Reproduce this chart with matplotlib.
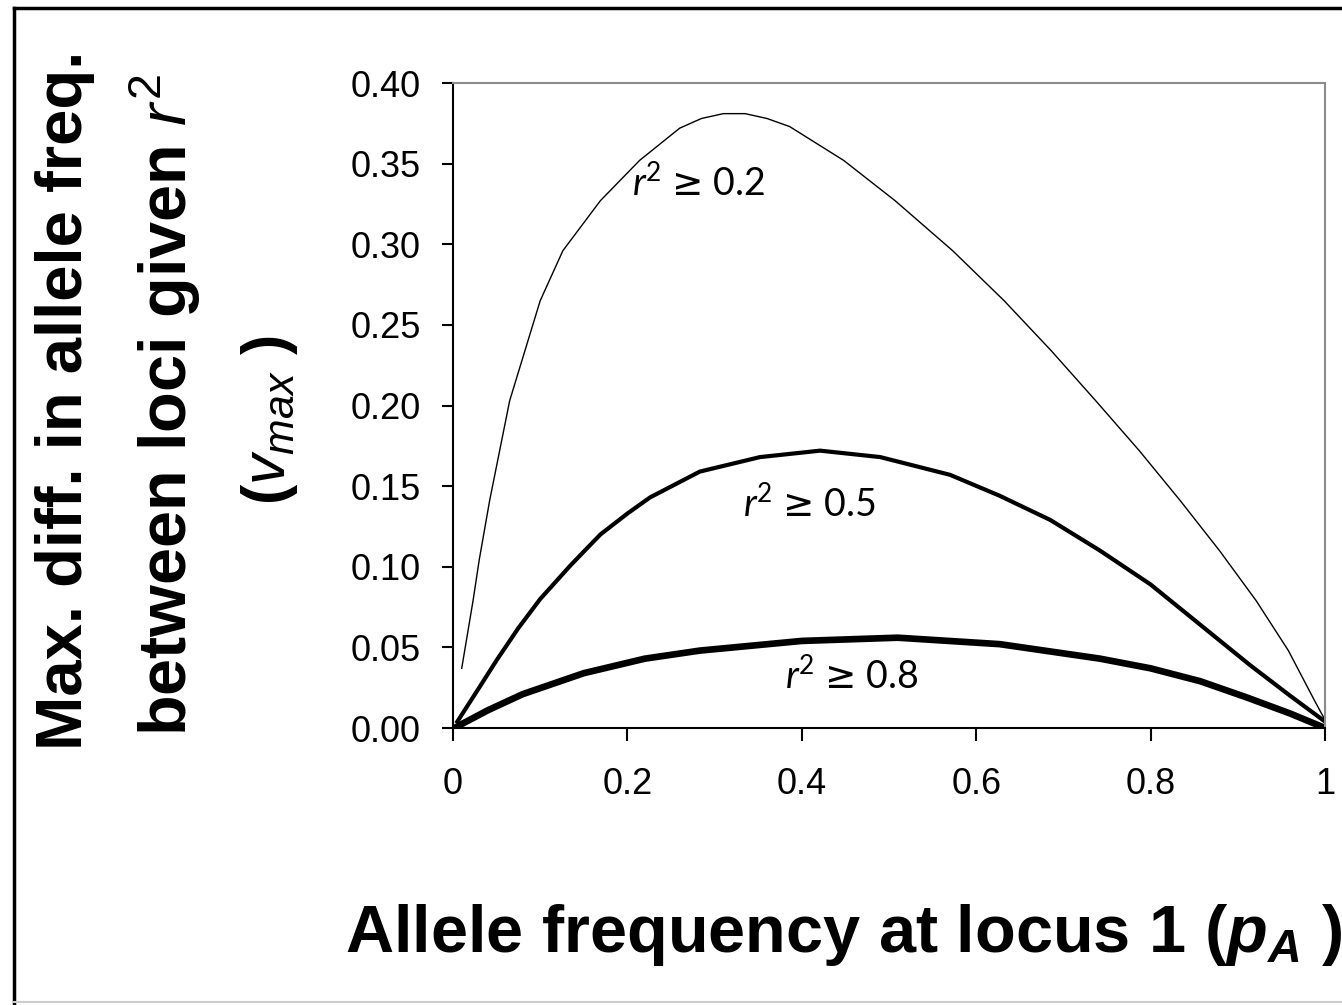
import matplotlib
matplotlib.use("Agg")
import matplotlib.pyplot as plt
from matplotlib.lines import Line2D

# values
p_02 = [0.01, 0.023, 0.03, 0.042, 0.065, 0.10, 0.126, 0.169, 0.214, 0.26, 0.285, 0.31, 0.335,
        0.36, 0.386, 0.448, 0.507, 0.573, 0.632, 0.686, 0.737, 0.787, 0.834, 0.879, 0.921,
        0.958, 0.988, 1.0]
v_02 = [0.037, 0.079, 0.104, 0.141, 0.203, 0.265, 0.296, 0.327, 0.352, 0.372, 0.378, 0.381,
        0.381, 0.378, 0.373, 0.352, 0.327, 0.296, 0.265, 0.234, 0.203, 0.172, 0.141, 0.110,
        0.079, 0.048, 0.017, 0.005]

p_05 = [0.005, 0.03, 0.05, 0.075, 0.10, 0.135, 0.169, 0.20, 0.226, 0.283, 0.352, 0.421,
        0.49, 0.57, 0.627, 0.685, 0.742, 0.80, 0.857, 0.914, 0.96, 1.0]
v_05 = [0.004, 0.025, 0.042, 0.062, 0.080, 0.101, 0.120, 0.133, 0.143, 0.159, 0.168, 0.172,
        0.168, 0.157, 0.144, 0.129, 0.110, 0.089, 0.064, 0.039, 0.020, 0.004]

p_08 = [0.005, 0.04, 0.08, 0.15, 0.22, 0.283, 0.40, 0.51, 0.627, 0.742, 0.80, 0.857, 0.91,
        0.96, 1.0]
v_08 = [0.001, 0.011, 0.021, 0.034, 0.043, 0.048, 0.054, 0.056, 0.052, 0.043, 0.037, 0.029,
        0.019, 0.009, 0.0]

x_ticks = [0, 0.2, 0.4, 0.6, 0.8, 1.0]
x_ticklabels = ["0", "0.2", "0.4", "0.6", "0.8", "1"]
y_ticks = [0.0, 0.05, 0.10, 0.15, 0.20, 0.25, 0.30, 0.35, 0.40]
curve_labels = ["0.2", "0.5", "0.8"]

plt.rcParams["font.family"] = "Liberation Sans"
plt.rcParams["mathtext.fontset"] = "custom"
plt.rcParams["mathtext.rm"] = "Liberation Sans"
plt.rcParams["mathtext.it"] = "Liberation Sans:italic"
plt.rcParams["mathtext.bf"] = "Liberation Sans:bold"
plt.rcParams["mathtext.bfit"] = "Liberation Sans:italic:bold"
# used only for the curve labels (Calibri-like look, full-size >= sign)
plt.rcParams["mathtext.sf"] = "Lato:italic"
plt.rcParams["mathtext.tt"] = "Lato"
plt.rcParams["mathtext.cal"] = "DejaVu Sans"

W, H = 1342, 1005
fig = plt.figure(figsize=(W / 100, H / 100), dpi=100)
ax = fig.add_axes([453 / W, 1 - 728 / H, (1325 - 453) / W, (728 - 83) / H])

ax.plot(p_02, v_02, color="black", lw=1.0)
ax.plot(p_05, v_05, color="black", lw=3.0)
ax.plot(p_08, v_08, color="black", lw=4.8)

ax.set_xlim(0, 1)
ax.set_ylim(0, 0.40)
ax.set_xticks(x_ticks)
ax.set_xticklabels(x_ticklabels)
ax.set_yticks(y_ticks)
ax.set_yticklabels([f"{v:.2f}" for v in y_ticks])
ax.tick_params(axis="x", direction="out", length=9, width=1.5, pad=19, labelsize=26)
ax.tick_params(axis="y", direction="out", length=8, width=1.5, pad=15, labelsize=26)

for side in ["left", "bottom"]:
    ax.spines[side].set_color("black")
    ax.spines[side].set_linewidth(1.5)
for side in ["top", "right"]:
    ax.spines[side].set_color("#8c8c8c")
    ax.spines[side].set_linewidth(1.5)

lab_font = ["Lato", "Open Sans", "DejaVu Sans"]
lab_pos = [(0.282, 0.3375), (0.409, 0.138), (0.4575, 0.0316)]
for (lx, ly), lab in zip(lab_pos, curve_labels):
    ax.text(lx, ly, r"$\mathsf{r}^{\mathtt{2}}\ \mathcal{≥}$ " + lab, family=lab_font,
            fontsize=27, ha="center", va="center")

# axis titles
fig.text(65 / W, 1 - 400 / H, "Max. diff. in allele freq.", rotation=90,
         fontsize=47, fontweight="bold", ha="center", va="center")
fig.text(165 / W, 1 - 405 / H, r"between loci given $r^2$", rotation=90,
         fontsize=48, fontweight="bold", ha="center", va="center")
fig.text(270 / W, 1 - 420 / H, r"($v_{max}$ )", rotation=90,
         fontsize=44, fontweight="bold", ha="center", va="center")
fig.text(345 / W, 1 - 952 / H, r"Allele frequency at locus 1 ($\mathbfit{p}_{\mathbfit{A}}$ )",
         fontsize=48, fontweight="bold", ha="left", va="baseline")

# frame around the figure
fig.add_artist(Line2D([14 / W, 14 / W], [0, 1 - 8 / H], color="black", lw=2.5))
fig.add_artist(Line2D([14 / W, 1], [1 - 8 / H, 1 - 8 / H], color="black", lw=2.5))
fig.add_artist(Line2D([14 / W, 1], [1 - 1002 / H, 1 - 1002 / H], color="#cccccc", lw=1.5))

fig.savefig("out.png", dpi=100)
